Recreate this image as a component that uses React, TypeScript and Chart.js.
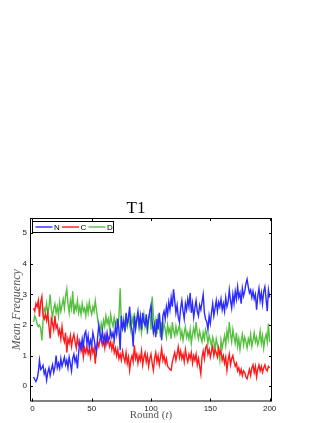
import React, { useEffect, useRef } from "react";
import { Chart, registerables } from "chart.js";

Chart.register(...registerables);

const TITLE = "T1";
const SERIES_NAMES = ["N", "C", "D"];
const X_TICKS = [0, 50, 100, 150, 200];
const Y_TICKS = [0, 1, 2, 3, 4, 5];

const ROUNDS: number[] = Array.from({ length: 200 }, (_, i) => i + 1);

const N_VALUES = [
  0.30, 0.22, 0.15, 0.25, 0.45, 0.85, 0.55, 0.60, 0.68, 0.40,
  0.52, 0.20, 0.45, 0.60, 0.35, 0.55, 0.70, 0.45, 0.62, 1.00,
  0.60, 0.75, 0.58, 0.90, 0.65, 0.80, 0.95, 0.70, 0.85, 0.60,
  0.95, 0.75, 0.50, 0.90, 1.05, 0.80, 0.95, 0.58, 1.10, 1.45,
  1.25, 1.55, 1.30, 1.70, 1.80, 1.40, 1.65, 1.25, 1.50, 1.35,
  1.75, 1.55, 1.30, 1.10, 1.60, 2.00, 1.70, 1.50, 1.80, 1.45,
  1.65, 1.40, 1.75, 1.50, 1.55, 1.80, 1.60, 1.75, 1.50, 1.95,
  1.70, 2.20, 1.85, 1.18, 2.30, 1.90, 2.10, 1.80, 2.40, 2.05,
  2.20, 2.60, 2.00, 1.85, 1.30, 2.30, 1.90, 2.20, 2.45, 2.00,
  2.30, 1.85, 2.40, 2.10, 2.00, 2.35, 1.90, 2.20, 2.45, 2.65,
  2.10, 1.75, 2.00, 1.60, 2.20, 1.85, 2.40, 1.95, 1.50, 2.30,
  2.45, 2.20, 2.60, 2.35, 2.75, 2.50, 2.90, 2.60, 3.17, 2.80,
  2.40, 2.65, 2.25, 2.10, 2.55, 2.80, 2.45, 2.20, 2.70, 2.50,
  2.85, 2.60, 3.05, 2.40, 2.70, 2.25, 2.55, 2.80, 2.45, 2.30,
  2.65, 2.50, 2.75, 3.00, 2.40, 2.20, 2.10, 1.85, 2.30, 2.05,
  2.40, 2.70, 2.30, 2.55, 2.80, 2.45, 2.75, 2.60, 2.85, 2.50,
  2.70, 2.45, 2.90, 2.60, 2.75, 3.15, 2.80, 2.55, 3.00, 2.70,
  3.10, 2.85, 3.25, 2.90, 3.05, 2.70, 3.20, 2.95, 3.10, 3.35,
  3.50, 3.25, 3.05, 3.15, 2.90, 3.10, 2.85, 3.00, 2.50, 2.95,
  3.20, 2.80, 3.05, 2.70, 3.10, 3.25, 2.85, 2.45, 3.15, 2.90,
];

const C_VALUES = [
  2.55, 2.45, 2.70, 2.60, 2.80, 2.27, 2.75, 2.93, 2.30, 2.20,
  2.35, 2.15, 2.40, 1.95, 1.56, 2.20, 2.05, 1.85, 2.30, 1.90,
  2.00, 1.70, 1.85, 1.55, 1.95, 1.60, 1.45, 1.75, 1.10, 1.55,
  1.40, 1.65, 1.30, 1.55, 1.70, 1.45, 1.25, 1.60, 1.35, 1.40,
  1.15, 1.35, 0.95, 1.25, 1.10, 1.30, 1.05, 1.20, 0.95, 1.35,
  1.10, 1.25, 0.74, 1.20, 1.45, 1.30, 1.55, 1.60, 1.35, 1.50,
  1.25, 1.65, 1.40, 1.55, 1.30, 1.45, 1.20, 1.40, 1.10, 1.25,
  1.00, 1.20, 0.90, 1.05, 0.85, 1.15, 0.95, 0.80, 1.10, 0.75,
  0.95, 0.52, 0.85, 1.00, 0.80, 1.34, 0.90, 1.05, 0.75, 1.00,
  0.85, 1.15, 0.70, 0.95, 1.10, 0.80, 1.00, 0.65, 0.90, 1.05,
  0.75, 0.52, 0.90, 1.10, 0.80, 1.00, 0.70, 0.95, 1.23, 0.85,
  1.00, 0.75, 0.90, 0.65, 0.60, 0.55, 0.52, 0.80, 0.95, 1.10,
  0.85, 1.05, 1.28, 0.95, 1.15, 0.90, 1.05, 0.80, 1.20, 0.95,
  0.80, 1.05, 0.90, 1.10, 0.75, 1.00, 0.85, 1.05, 0.70, 0.90,
  0.65, 0.40, 0.95, 1.15, 0.90, 1.25, 1.34, 1.05, 1.20, 0.95,
  1.15, 1.30, 1.00, 1.20, 1.10, 0.95, 1.25, 1.05, 1.15, 0.85,
  1.00, 0.75, 0.95, 0.52, 0.85, 1.05, 0.70, 0.90, 1.00, 0.80,
  0.65, 0.75, 0.50, 0.60, 0.40, 0.55, 0.35, 0.50, 0.45, 0.30,
  0.24, 0.40, 0.55, 0.35, 0.60, 0.70, 0.45, 0.65, 0.30, 0.55,
  0.70, 0.50, 0.65, 0.45, 0.60, 0.70, 0.55, 0.50, 0.65, 0.60,
];

const D_VALUES = [
  2.10, 2.30, 2.20, 2.05, 1.95, 2.00, 1.90, 1.50, 2.15, 2.55,
  2.45, 2.70, 2.35, 2.60, 3.00, 2.50, 2.25, 2.55, 2.70, 2.40,
  2.60, 2.30, 2.75, 2.45, 2.65, 2.85, 2.55, 2.95, 3.18, 2.70,
  2.40, 2.80, 2.55, 3.10, 2.35, 2.65, 2.50, 2.80, 2.40, 2.60,
  2.35, 2.70, 2.45, 2.55, 2.30, 2.65, 2.40, 2.75, 2.50, 2.35,
  2.60, 2.45, 2.80, 2.50, 2.20, 1.95, 1.67, 2.05, 1.85, 2.15,
  1.95, 2.30, 2.05, 2.20, 1.90, 2.35, 2.10, 1.95, 2.25, 2.00,
  2.15, 1.85, 2.30, 3.20, 2.05, 1.90, 2.20, 1.75, 2.10, 1.95,
  2.30, 2.00, 1.80, 2.25, 2.05, 2.40, 1.85, 2.10, 2.30, 1.90,
  2.20, 1.75, 2.05, 2.35, 1.95, 2.15, 1.70, 2.25, 2.40, 1.85,
  2.93, 2.30, 1.90, 2.15, 1.70, 2.35, 1.95, 1.60, 2.10, 1.75,
  2.05, 1.85, 1.60, 2.00, 1.75, 1.90, 1.55, 2.10, 1.80, 1.65,
  1.95, 1.70, 1.85, 2.00, 1.60, 1.80, 1.50, 1.75, 1.95, 1.60,
  1.75, 1.55, 1.85, 1.40, 1.70, 1.90, 1.65, 2.10, 1.75, 1.55,
  1.80, 1.60, 1.45, 1.75, 1.55, 1.85, 1.70, 1.40, 1.65, 1.50,
  1.30, 1.60, 1.45, 1.20, 1.55, 1.35, 1.10, 0.85, 1.50, 1.25,
  1.45, 1.65, 1.35, 1.80, 1.55, 2.10, 1.70, 1.45, 1.85, 1.60,
  1.40, 1.75, 1.30, 1.55, 1.20, 1.50, 1.70, 1.35, 1.60, 1.45,
  1.25, 1.55, 1.40, 1.70, 1.30, 1.50, 1.75, 1.45, 1.60, 1.35,
  1.50, 1.80, 1.40, 1.65, 1.25, 1.55, 1.70, 1.45, 2.05, 1.45,
];

const COLORS = ["#2b2bff", "#ff1a1a", "#55c040"];
const SANS = "Arial, 'Liberation Sans', Helvetica, sans-serif";
const SERIF = "'Liberation Serif', 'Times New Roman', serif";

const framePlugin = {
  id: "matlabFrame",
  afterDraw(chart: any) {
    const { ctx, chartArea } = chart;
    const { left, right, top, bottom } = chartArea;
    const xs = chart.scales.x;
    const ys = chart.scales.y;
    ctx.save();
    ctx.strokeStyle = "#000";
    ctx.lineWidth = 1;
    ctx.strokeRect(left + 0.5, top + 0.5, right - left - 1, bottom - top - 1);
    const tl = 3;
    ctx.beginPath();
    for (const v of X_TICKS) {
      const px = Math.round(xs.getPixelForValue(v)) + 0.5;
      ctx.moveTo(px, bottom);
      ctx.lineTo(px, bottom - tl);
      ctx.moveTo(px, top);
      ctx.lineTo(px, top + tl);
    }
    for (const v of Y_TICKS) {
      const py = Math.round(ys.getPixelForValue(v)) + 0.5;
      ctx.moveTo(left, py);
      ctx.lineTo(left + tl, py);
      ctx.moveTo(right, py);
      ctx.lineTo(right - tl, py);
    }
    ctx.stroke();

    // legend
    const lx = left + 2.5;
    const ly = top + 3.5;
    const lw = 81;
    const lh = 11;
    ctx.fillStyle = "#fff";
    ctx.fillRect(lx, ly, lw, lh);
    ctx.strokeStyle = "#000";
    ctx.lineWidth = 1;
    ctx.strokeRect(lx, ly, lw, lh);
    ctx.font = `8px ${SANS}`;
    ctx.textBaseline = "middle";
    ctx.textAlign = "left";
    const cy = ly + lh / 2;
    let cx = lx + 3;
    SERIES_NAMES.forEach((name, i) => {
      ctx.strokeStyle = COLORS[i];
      ctx.lineWidth = 1.4;
      ctx.beginPath();
      ctx.moveTo(cx, cy);
      ctx.lineTo(cx + 17, cy);
      ctx.stroke();
      ctx.fillStyle = "#000";
      ctx.fillText(name, cx + 18.5, cy + 0.5);
      cx += 26.5;
    });

    // x axis title: Round (t)
    const parts = [
      { t: "Round (", f: `11px ${SERIF}` },
      { t: "t", f: `italic 11px ${SERIF}` },
      { t: ")", f: `11px ${SERIF}` },
    ];
    let total = 0;
    for (const p of parts) {
      ctx.font = p.f;
      total += ctx.measureText(p.t).width;
    }
    let tx = (left + right) / 2 - total / 2;
    ctx.fillStyle = "#555";
    ctx.textBaseline = "middle";
    for (const p of parts) {
      ctx.font = p.f;
      ctx.fillText(p.t, tx, 415);
      tx += ctx.measureText(p.t).width;
    }
    ctx.restore();
  },
};

export default function App() {
  const ref = useRef<HTMLCanvasElement | null>(null);

  useEffect(() => {
    if (!ref.current) return;
    const series = [N_VALUES, C_VALUES, D_VALUES];
    const chart = new Chart(ref.current, {
      type: "line",
      data: {
        datasets: series.map((vals, i) => ({
          label: SERIES_NAMES[i],
          data: vals.map((v, j) => ({ x: ROUNDS[j], y: v })),
          borderColor: COLORS[i],
          backgroundColor: COLORS[i],
          borderWidth: 1.4,
          pointRadius: 0,
          tension: 0,
          fill: false,
        })),
      },
      options: {
        animation: false,
        responsive: false,
        devicePixelRatio: 1,
        layout: { padding: { left: 0, right: 55, top: 0, bottom: 0 } },
        plugins: {
          legend: { display: false },
          tooltip: { enabled: false },
          title: {
            display: true,
            text: TITLE,
            color: "#000",
            font: { family: SERIF, size: 17, weight: "normal", lineHeight: 1 },
            padding: { top: 200, bottom: 1 },
          },
        },
        scales: {
          x: {
            type: "linear",
            min: -2,
            max: 202,
            grid: { display: false, drawTicks: false },
            border: { display: false },
            afterBuildTicks: (axis: any) => {
              axis.ticks = X_TICKS.map((v) => ({ value: v }));
            },
            afterFit: (axis: any) => {
              axis.height = 21.5;
            },
            ticks: {
              padding: 2,
              color: "#222",
              font: { family: SANS, size: 8 },
              maxRotation: 0,
              autoSkip: false,
            },
          },
          y: {
            type: "linear",
            min: -0.5,
            max: 5.5,
            grid: { display: false, drawTicks: false },
            border: { display: false },
            afterBuildTicks: (axis: any) => {
              axis.ticks = Y_TICKS.map((v) => ({ value: v }));
            },
            afterFit: (axis: any) => {
              axis.width = 30;
            },
            ticks: {
              padding: 3,
              color: "#222",
              font: { family: SANS, size: 8 },
              autoSkip: false,
            },
            title: {
              display: true,
              text: "Mean Frequency",
              color: "#555",
              font: { family: SERIF, size: 12, style: "italic", lineHeight: 1.2 },
              padding: { top: 10, bottom: 0 },
            },
          },
        },
      },
      plugins: [framePlugin],
    } as any);
    return () => chart.destroy();
  }, []);

  return (
    <div style={{ position: "absolute", left: 0, top: 0, width: 327, height: 423, background: "#fff" }}>
      <canvas ref={ref} width={327} height={423} style={{ display: "block", width: 327, height: 423 }} />
    </div>
  );
}
